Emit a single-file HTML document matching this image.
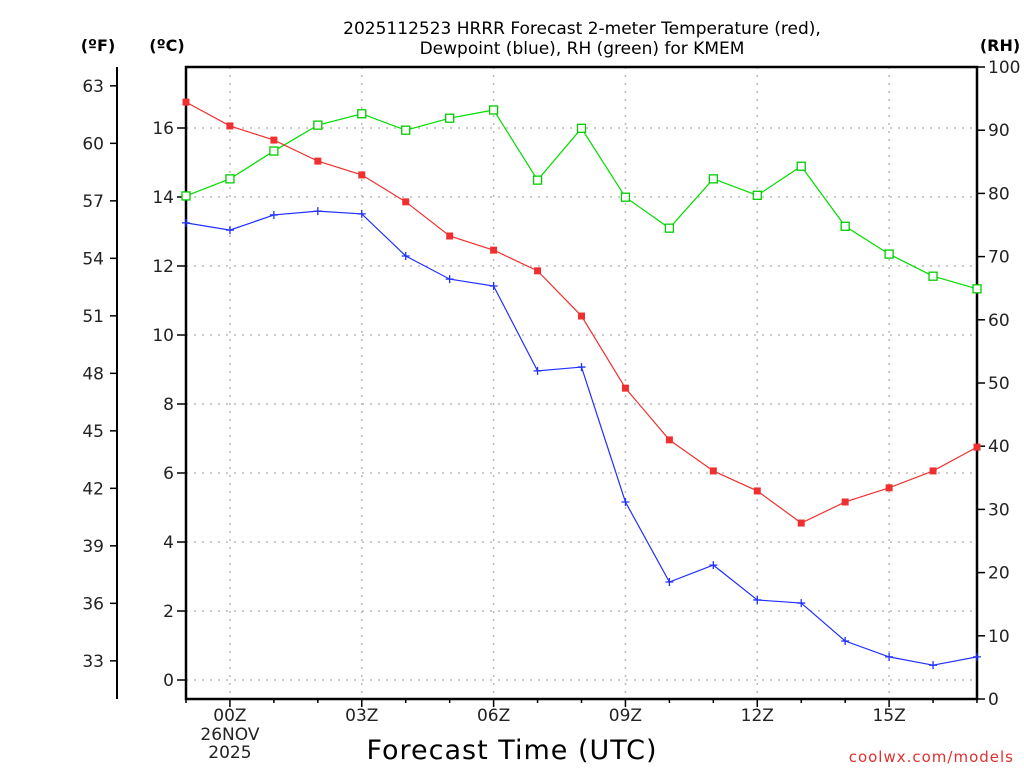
<!DOCTYPE html>
<html><head><meta charset="utf-8"><style>
body{margin:0;background:#fff;}
svg{display:block;font-family:"DejaVu Sans","Liberation Sans",sans-serif;}
</style></head><body>
<svg id="c" width="1024" height="768" viewBox="0 0 1024 768">
<text x="582" y="34" font-size="17" text-anchor="middle" fill="#000">2025112523 HRRR Forecast 2-meter Temperature (red),</text>
<text x="582" y="54" font-size="17" text-anchor="middle" fill="#000">Dewpoint (blue), RH (green) for KMEM</text>
<text x="98" y="51" font-size="16" font-weight="bold" text-anchor="middle">(ºF)</text>
<text x="167" y="51" font-size="16" font-weight="bold" text-anchor="middle">(ºC)</text>
<text x="1000" y="51" font-size="16" font-weight="bold" text-anchor="middle">(RH)</text>
<text x="512" y="759" font-size="27" text-anchor="middle" letter-spacing="1">Forecast Time (UTC)</text>
<text x="1014" y="762" font-size="15" text-anchor="end" fill="#e03030" letter-spacing="1">coolwx.com/models</text>
<g id="grid"></g><g id="axes"></g><g id="series"></g>
</svg>
<script>
const hours=["23","00","01","02","03","04","05","06","07","08","09","10","11","12","13","14","15","16","17"];
const tempC=[16.75,16.06,15.65,15.04,14.64,13.86,12.87,12.46,11.86,10.55,8.46,6.96,6.06,5.48,4.55,5.16,5.57,6.06,6.75];
const dewC=[13.25,13.04,13.48,13.59,13.51,12.29,11.62,11.42,8.96,9.07,5.16,2.84,3.33,2.32,2.23,1.13,0.67,0.43,0.67];
const rh=[79.6,82.3,86.7,90.8,92.6,90.0,91.9,93.2,82.1,90.3,79.4,74.5,82.3,79.7,84.3,74.8,70.4,66.9,64.9];
const cTicks=[0,2,4,6,8,10,12,14,16];
const fTicks=[33,36,39,42,45,48,51,54,57,60,63];
const rhTicks=[0,10,20,30,40,50,60,70,80,90,100];
const xLabels=[[1,"00Z"],[4,"03Z"],[7,"06Z"],[10,"09Z"],[13,"12Z"],[16,"15Z"]];
const NS="http://www.w3.org/2000/svg";
const L=186,R=977,T=67,B=699;
const X=i=>L+i*(R-L)/(hours.length-1);
const YC=c=>680-c*34.5;
const YF=f=>YC((f-32)*5/9);
const YR=r=>B-r*(B-T)/100;
function mk(tag,at,parent){const e=document.createElementNS(NS,tag);for(const k in at)e.setAttribute(k,at[k]);document.getElementById(parent).appendChild(e);return e;}
function txt(x,y,s,anchor,parent,size){const e=mk("text",{x:x,y:y,"font-size":size||16,"text-anchor":anchor,fill:"#222"},parent);e.textContent=s;return e;}
// grid
cTicks.forEach(c=>{const e=mk("line",{x1:L,x2:R,y1:YC(c),y2:YC(c),stroke:"#bbb","stroke-width":1.5,"stroke-dasharray":"2,6"},"grid");

});
xLabels.forEach(([i])=>{const e=mk("line",{x1:X(i),x2:X(i),y1:T,y2:B,stroke:"#bbb","stroke-width":1.5,"stroke-dasharray":"2,6"},"grid");

});
// frame
const fr=mk("rect",{x:L,y:T,width:R-L,height:B-T,fill:"none",stroke:"#000","stroke-width":2.5},"axes");


const fa=mk("line",{x1:117,x2:117,y1:T,y2:B,stroke:"#000","stroke-width":2},"axes");


cTicks.forEach(c=>{mk("line",{x1:L-9,x2:L,y1:YC(c),y2:YC(c),stroke:"#000","stroke-width":1.5},"axes");
const t=txt(L-12,YC(c)+6,String(c),"end","axes",17);

});
fTicks.forEach(f=>{mk("line",{x1:110,x2:117,y1:YF(f),y2:YF(f),stroke:"#000","stroke-width":1.5},"axes");
const t=txt(104,YF(f)+6,String(f),"end","axes",17);

});
rhTicks.forEach(r=>{mk("line",{x1:R,x2:R+8,y1:YR(r),y2:YR(r),stroke:"#000","stroke-width":1.5},"axes");
const t=txt(988,YR(r)+6,String(r),"start","axes",17);

});
hours.forEach((h,i)=>{mk("line",{x1:X(i),x2:X(i),y1:B,y2:B+(xLabels.some(a=>a[0]===i)?8:4),stroke:"#000","stroke-width":1.5},"axes");});
xLabels.forEach(([i,s])=>{const t=txt(X(i),B+22,s,"middle","axes",17);

});
const d1=txt(X(1),B+41,"26NOV","middle","axes",17);


const d2=txt(X(1),B+59,"2025","middle","axes",17);


// series
function line(vals,yf,col,name){const p=mk("polyline",{points:vals.map((v,i)=>X(i)+","+yf(v)).join(" "),fill:"none",stroke:col,"stroke-width":1.2},"series");

}
line(rh,YR,"#00dd00","rh-line");
line(tempC,YC,"#f03030","temperature-line");
line(dewC,YC,"#2030ff","dewpoint-line");
tempC.forEach((v,i)=>{const m=mk("rect",{x:X(i)-3.5,y:YC(v)-3.5,width:7,height:7,fill:"#f03030"},"series");

});
rh.forEach((v,i)=>{const m=mk("rect",{x:X(i)-4,y:YR(v)-4,width:8,height:8,fill:"#fff",stroke:"#00cc00","stroke-width":1.3},"series");

});
dewC.forEach((v,i)=>{const m=mk("path",{d:`M${X(i)-4},${YC(v)}h8M${X(i)},${YC(v)-4}v8`,stroke:"#2030ff","stroke-width":1.3},"series");

});
</script>
</body></html>
